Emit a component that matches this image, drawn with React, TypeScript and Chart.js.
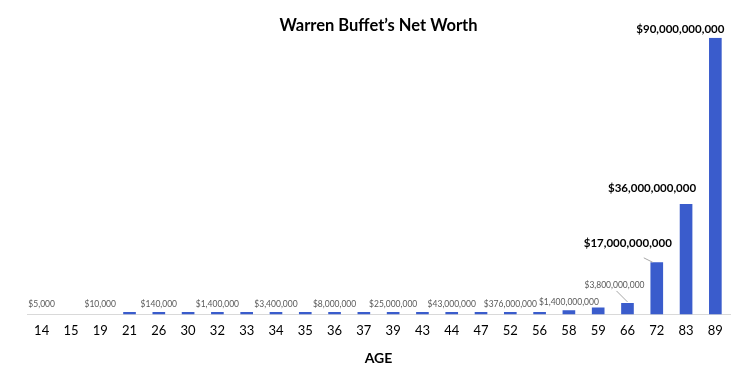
import React, { useEffect, useRef } from "react";
import { Chart, registerables } from "chart.js";

Chart.register(...registerables);

// ---- data ----
const ages = ["14", "15", "19", "21", "26", "30", "32", "33", "34", "35", "36", "37", "39", "43", "44", "47", "52", "56", "58", "59", "66", "72", "83", "89"];
const netWorth = [
  5000, 6000, 10000, 20000, 140000, 1000000, 1400000, 2400000, 3400000, 4200000,
  8000000, 10000000, 25000000, 34000000, 43000000, 67000000, 376000000, 620000000,
  1400000000, 2300000000, 3800000000, 17000000000, 36000000000, 90000000000,
];
const labeledAges = ["14", "19", "26", "32", "34", "36", "39", "44", "52", "58", "66", "72", "83", "89"];
const highlightedAges = ["72", "83", "89"];

// ---- styling ----
const BAR_COLOR = "#3a5ccc";
const FONT = "Lato";
type Placement = { dx: number; rise: number; leader?: [number, number, number, number] };
const defaultPlacement: Placement = { dx: 0, rise: 8 };
const labelPlacement: Record<string, Placement> = {
  "66": { dx: -13, rise: 18, leader: [2, 6, 0, -1] },
  "72": { dx: -29, rise: 19.5, leader: [16, 15, -4, 0] },
  "83": { dx: -34, rise: 16 },
  "89": { dx: -35, rise: 9 },
};

const fmt = (v: number) => "$" + v.toLocaleString("en-US");

const barLabels = {
  id: "barLabels",
  afterDatasetsDraw(chart: any) {
    const meta = chart.getDatasetMeta(0);
    const ctx = chart.ctx as CanvasRenderingContext2D;
    ctx.save();
    meta.data.forEach((bar: any, i: number) => {
      const age = ages[i];
      if (!labeledAges.includes(age)) return;
      const big = highlightedAges.includes(age);
      const p = labelPlacement[age] || defaultPlacement;
      const x = bar.x + p.dx;
      const y = bar.y - p.rise;
      if (p.leader) {
        ctx.strokeStyle = "#a6a6a6";
        ctx.lineWidth = 1;
        ctx.beginPath();
        ctx.moveTo(x + p.leader[0], y + p.leader[1]);
        ctx.lineTo(bar.x + p.leader[2], bar.y + p.leader[3]);
        ctx.stroke();
      }
      ctx.font = big ? `bold 11.5px ${FONT}` : `8.5px ${FONT}`;
      ctx.fillStyle = big ? "#000000" : "#595959";
      ctx.textAlign = "center";
      ctx.textBaseline = "middle";
      ctx.fillText(fmt(netWorth[i]), x, y);
    });
    ctx.restore();
  },
};

export default function App() {
  const ref = useRef<HTMLCanvasElement | null>(null);
  useEffect(() => {
    if (!ref.current) return;
    const chart = new Chart(ref.current, {
      type: "bar",
      data: {
        labels: ages,
        datasets: [
          {
            data: netWorth,
            backgroundColor: (c: any) => (c.raw < 15000 ? "rgba(0,0,0,0)" : BAR_COLOR),
            barPercentage: 0.9,
            categoryPercentage: 0.48,
            minBarLength: 2.5,
          },
        ],
      },
      options: {
        animation: false,
        responsive: true,
        maintainAspectRatio: false,
        layout: { padding: { left: 27, right: 19, top: 0, bottom: 8 } },
        plugins: {
          legend: { display: false },
          tooltip: { enabled: false },
          title: {
            display: true,
            text: "Warren Buffet’s Net Worth",
            color: "#000000",
            font: { family: FONT, size: 16.5, weight: "bold" },
            padding: { top: 16, bottom: 2 },
          },
        },
        scales: {
          x: {
            grid: { display: false, drawTicks: false },
            border: { display: true, color: "#d9d9d9", width: 1 },
            ticks: { color: "#000000", font: { family: FONT, size: 13 }, padding: 8 },
            title: {
              display: true,
              text: "AGE",
              color: "#000000",
              font: { family: FONT, size: 14, weight: "bold" },
              padding: { top: 4, bottom: 0 },
            },
          },
          y: { display: false, min: 0, max: 90000000000 },
        },
      },
      plugins: [barLabels],
    });
    return () => chart.destroy();
  }, []);
  return (
    <div style={{ position: "absolute", left: 0, top: 0, width: 749, height: 375, background: "#fff" }}>
      <canvas ref={ref} />
    </div>
  );
}
